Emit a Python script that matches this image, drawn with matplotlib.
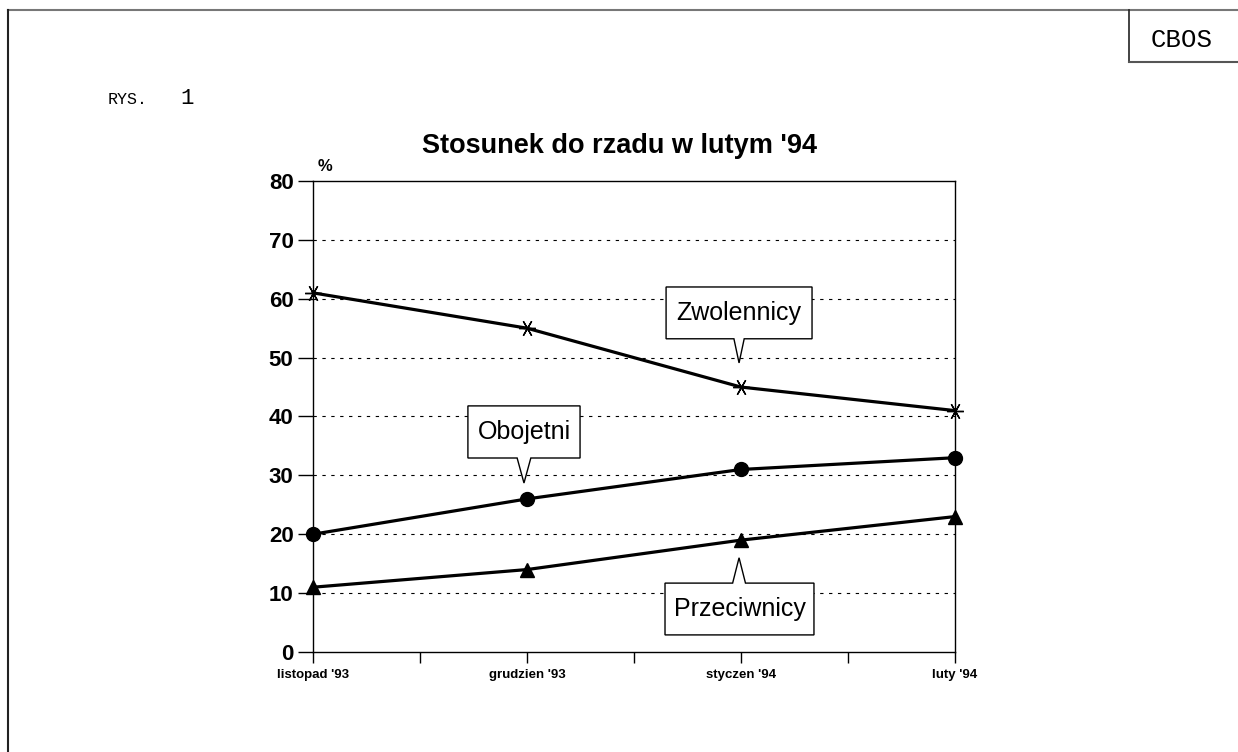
"""
Stosunek do rzadu w lutym '94 (CBOS, rys. 1)
"""
import matplotlib
matplotlib.use('Agg')
import matplotlib.pyplot as plt
from matplotlib.patches import Polygon
from matplotlib.lines import Line2D

months = ["listopad '93", "grudzien '93", "styczen '94", "luty '94"]
zwolennicy = [61, 55, 45, 41]
obojetni = [20, 26, 31, 33]
przeciwnicy = [11, 14, 19, 23]
yticks = [0, 10, 20, 30, 40, 50, 60, 70, 80]

plt.rcParams['font.family'] = ['Liberation Sans', 'DejaVu Sans']


def callout(ax, text, x0, x1, ylo, yhi, tip, half, up=False):
    """box with a little wedge pointing at tip (data coords)"""
    tx, ty = tip
    if up:
        pts = [(x0, ylo), (x1, ylo), (x1, yhi), (tx + half, yhi),
               (tx, ty), (tx - half, yhi), (x0, yhi)]
    else:
        pts = [(x0, yhi), (x1, yhi), (x1, ylo), (tx + half, ylo),
               (tx, ty), (tx - half, ylo), (x0, ylo)]
    ax.add_patch(Polygon(pts, closed=True, facecolor='white', edgecolor='black',
                         lw=1.0, zorder=5, clip_on=False))
    ax.text((x0 + x1) / 2, (ylo + yhi) / 2, text, ha='center', va='center',
            fontsize=18, zorder=6)


fig = plt.figure(figsize=(12.38, 7.52), dpi=100)
ax = fig.add_axes([0.2528, 0.1330, 0.5186, 0.6263])

x = range(len(months))
kw = dict(color='black', lw=2.3, clip_on=False, zorder=4)
ax.plot(x, zwolennicy, marker=(6, 2, 30), ms=12, mew=1.0, **kw)
ax.plot(x, obojetni, marker='o', ms=10, **kw)
ax.plot(x, przeciwnicy, marker='^', ms=10, **kw)

ax.set_xlim(0, 3)
ax.set_ylim(0, 80)
ax.set_yticks(yticks)
ax.set_xticks(list(x))
ax.set_xticklabels(months, fontsize=9.5, fontweight='bold')
ax.set_xticks([0.5, 1.5, 2.5], minor=True)
ax.tick_params(axis='y', direction='out', length=11, width=1, pad=3,
               labelsize=16)
ax.tick_params(axis='x', which='both', direction='out', length=8, width=1, pad=4)
for lab in ax.get_yticklabels():
    lab.set_fontweight('bold')
for s in ax.spines.values():
    s.set_linewidth(1.0)

for v in yticks[1:-1]:
    ax.axhline(v, color='black', lw=0.8, ls=(0, (3, 5)), zorder=1)

ax.text(0.02, 81.2, '%', fontsize=12, fontweight='bold', ha='left', va='bottom')

W, H = 1238.0, 752.0
fig.text(620 / W, 1 - 153 / H, "Stosunek do rzadu w lutym '94", fontsize=19.5,
         fontweight='bold', ha='center', va='baseline')

callout(ax, 'Zwolennicy', 1.650, 2.332, 53.2, 62.0, (1.991, 49.1), 0.024)
callout(ax, 'Obojetni', 0.724, 1.248, 32.95, 41.8, (0.986, 28.7), 0.032)
callout(ax, 'Przeciwnicy', 1.645, 2.341, 2.9, 11.7, (1.991, 16.0), 0.030, up=True)

# page frame and CBOS corner box
fig.add_artist(Line2D([8 / W, 1], [1 - 9.5 / H] * 2, color='#777777', lw=1.5))
fig.add_artist(Line2D([8 / W] * 2, [0, 1 - 9.5 / H], color='#222222', lw=1.5))
fig.add_artist(Line2D([1129 / W] * 2, [1 - 62 / H, 1 - 9.5 / H], color='#222222', lw=1.2))
fig.add_artist(Line2D([1129 / W, 1], [1 - 62 / H] * 2, color='#555555', lw=1.5))
fig.text(1182 / W, 1 - 40 / H, 'CBOS', family='Liberation Mono', fontsize=18.5,
         ha='center', va='center')
fig.text(108 / W, 1 - 104 / H, 'RYS.', family='Liberation Mono', fontsize=12,
         ha='left', va='baseline')
fig.text(180 / W, 1 - 104 / H, '1', family='Liberation Mono', fontsize=16,
         ha='left', va='baseline')

fig.savefig('out.png', dpi=100)
